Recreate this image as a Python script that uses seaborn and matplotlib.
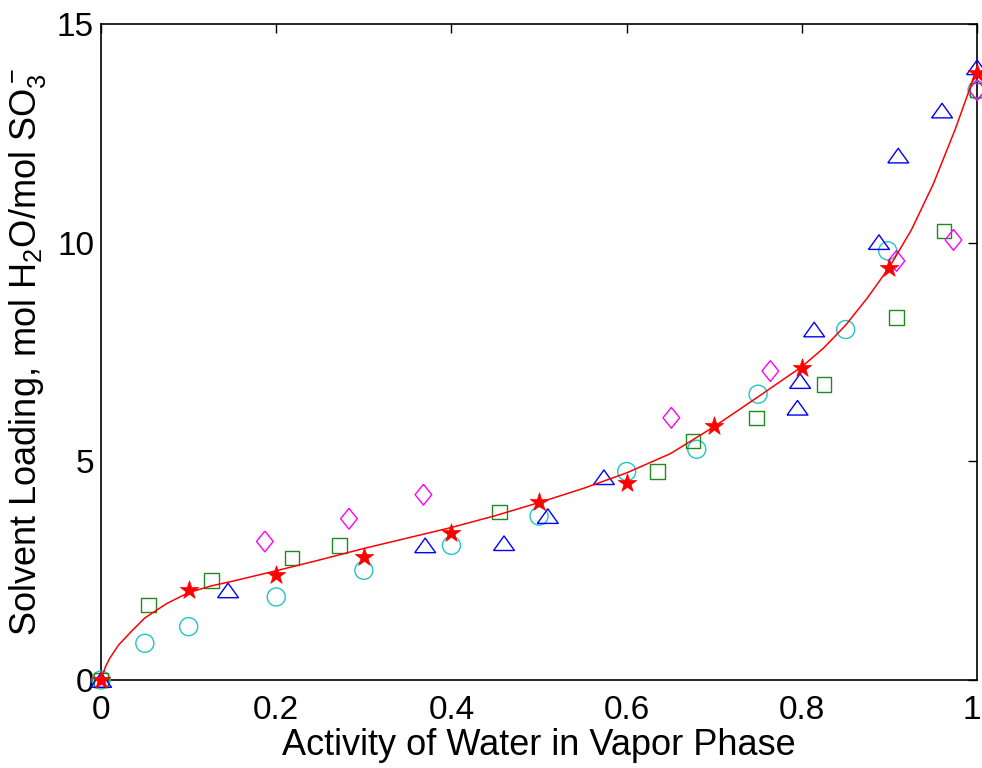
import matplotlib
matplotlib.use("Agg")
import matplotlib.pyplot as plt
import matplotlib.transforms as mtransforms
import seaborn as sns
import numpy as np
import pandas as pd

# Water activity (x) and solvent loading (y) for each data set
star_x = [0.0, 0.1, 0.2, 0.3, 0.4, 0.5, 0.6, 0.7, 0.8, 0.9, 1.0]
star_y = [0.0, 2.07, 2.41, 2.81, 3.36, 4.07, 4.50, 5.81, 7.14, 9.42, 13.9]

circle_x = [0.0, 0.05, 0.1, 0.2, 0.3, 0.4, 0.5, 0.6, 0.68, 0.75, 0.85, 0.898, 1.0]
circle_y = [0.0, 0.84, 1.22, 1.90, 2.51, 3.08, 3.75, 4.77, 5.28, 6.54, 8.02, 9.82, 13.5]

square_x = [0.0, 0.054, 0.126, 0.218, 0.272, 0.455, 0.635, 0.676, 0.748, 0.825, 0.908, 0.962, 1.0]
square_y = [0.0, 1.71, 2.28, 2.79, 3.08, 3.84, 4.77, 5.47, 6.0, 6.76, 8.30, 10.28, 13.5]

triangle_x = [0.0, 0.145, 0.37, 0.46, 0.51, 0.574, 0.795, 0.798, 0.814, 0.888, 0.910, 0.96, 1.0]
triangle_y = [0.0, 2.05, 3.08, 3.13, 3.75, 4.64, 6.23, 6.84, 8.02, 10.02, 12.0, 13.03, 14.02]

diamond_x = [0.187, 0.283, 0.368, 0.651, 0.764, 0.908, 0.973, 1.0]
diamond_y = [3.17, 3.69, 4.24, 6.0, 7.07, 9.59, 10.07, 13.5]

# Model isotherm curve
curve_x = [0.0, 0.005, 0.01, 0.02, 0.035, 0.05, 0.075, 0.1, 0.125, 0.15, 0.2,
           0.25, 0.3, 0.35, 0.4, 0.45, 0.5, 0.55, 0.6, 0.65, 0.7, 0.75, 0.8,
           0.825, 0.85, 0.875, 0.9, 0.925, 0.95, 0.975, 1.0]
curve_y = [0.0, 0.30, 0.50, 0.80, 1.12, 1.42, 1.75, 2.00, 2.15, 2.26, 2.50,
           2.75, 3.01, 3.25, 3.49, 3.76, 4.06, 4.38, 4.74, 5.18, 5.80, 6.48, 7.17,
           7.60, 8.12, 8.75, 9.45, 10.30, 11.35, 12.60, 14.0]

x_ticks = [0, 0.2, 0.4, 0.6, 0.8, 1]
x_tick_labels = ["0", "0.2", "0.4", "0.6", "0.8", "1"]
y_ticks = [0, 5, 10, 15]
y_tick_labels = ["0", "5", "10", "15"]

sns.set_style("white")
plt.rcParams["font.family"] = ["Liberation Sans", "DejaVu Sans"]
plt.rcParams["mathtext.fontset"] = "custom"
plt.rcParams["mathtext.rm"] = "Liberation Sans"
plt.rcParams["mathtext.it"] = "Liberation Sans:italic"
plt.rcParams["mathtext.bf"] = "Liberation Sans:bold"

fig = plt.figure(figsize=(9.82, 7.68), dpi=100)
ax = fig.add_axes([0.1029, 0.1146, 0.8921, 0.8535])

# marker shapes: wide triangle and tall diamond
tri_marker = [(-1.0, -0.7), (1.0, -0.7), (0.0, 0.7), (-1.0, -0.7)]
dia_marker = [(0.0, 1.0), (0.8, 0.0), (0.0, -1.0), (-0.8, 0.0), (0.0, 1.0)]

edge_lw = 1.0
sns.scatterplot(x=circle_x, y=circle_y, marker="o", s=13.0**2,
                facecolor="none", edgecolor="#22c4c4", linewidth=edge_lw,
                ax=ax, zorder=3, clip_on=False)
sns.scatterplot(x=square_x, y=square_y, marker="s", s=10.4**2,
                facecolor="none", edgecolor="#1f8a1f", linewidth=edge_lw,
                ax=ax, zorder=3, clip_on=False)
sns.scatterplot(x=triangle_x, y=triangle_y, marker=tri_marker, s=15.0**2,
                facecolor="none", edgecolor="#0000ff", linewidth=edge_lw,
                ax=ax, zorder=3, clip_on=False)
sns.scatterplot(x=diamond_x, y=diamond_y, marker=dia_marker, s=15.0**2,
                facecolor="none", edgecolor="#ff00ff", linewidth=edge_lw,
                ax=ax, zorder=3, clip_on=False)

curve = pd.DataFrame({"aw": curve_x, "load": curve_y})
sns.lineplot(data=curve, x="aw", y="load", color="#ff0000", linewidth=1.1,
             ax=ax, zorder=4, sort=False)

sns.scatterplot(x=star_x, y=star_y, marker="*", s=14.0**2,
                color="#ff0000", edgecolor="#ff0000", linewidth=0.5,
                ax=ax, zorder=5, clip_on=False)

ax.set_xlim(0, 1)
ax.set_ylim(0, 15)
ax.set_xticks(x_ticks)
ax.set_xticklabels(x_tick_labels)
ax.set_yticks(y_ticks)
ax.set_yticklabels(y_tick_labels)

ax.tick_params(axis="both", which="major", direction="in", length=6.5,
               width=1.0, color="black", labelsize=24, labelcolor="black",
               top=True, right=True)
ax.tick_params(axis="x", pad=11)
ax.tick_params(axis="y", pad=5)

# keep the last x tick label inside the figure edge
last_label = ax.get_xticklabels()[-1]
last_label.set_transform(last_label.get_transform() +
                         mtransforms.ScaledTranslation(-5 / 100, 0,
                                                       fig.dpi_scale_trans))

for sp in ax.spines.values():
    sp.set_visible(True)
    sp.set_color("black")
    sp.set_linewidth(1.2)
    sp.set_zorder(2)

ax.set_xlabel("Activity of Water in Vapor Phase", fontsize=26, color="black")
ax.set_ylabel(r"Solvent Loading, mol H$_2$O/mol SO$_3^-$", fontsize=26,
              color="black")
ax.xaxis.set_label_coords(0.5, -0.074)
ax.yaxis.set_label_coords(-0.060, 0.5)
ax.grid(False)

fig.savefig("out.png", dpi=100, facecolor="white")
